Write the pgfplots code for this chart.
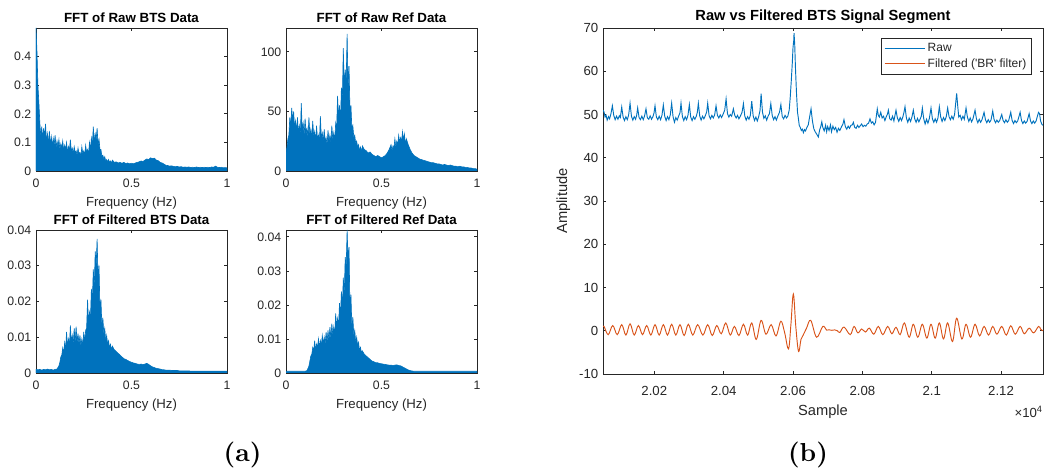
\documentclass[border=0pt]{standalone}
\usepackage{fontspec}
\usepackage{pgfplots}
\pgfplotsset{compat=1.18}
\newfontfamily\hel{Liberation Sans}
\newfontfamily\capfont{lmroman10-bold.otf}
\definecolor{axcol}{RGB}{38,38,38}
\definecolor{mblue}{RGB}{0,114,189}
\definecolor{morange}{RGB}{217,83,25}
\pgfplotsset{
  mstyle/.style={
    scale only axis,
    scaled ticks=false,
    axis line style={draw=axcol, line width=0.5pt},
    tick style={draw=axcol, line width=0.5pt},
    tick align=inside,
    major tick length=2.6pt,
    ticklabel style={font=\hel\fontsize{9.2}{11}\selectfont, text=axcol},
    xticklabel style={yshift=-2.5pt},
    every axis label/.append style={font=\hel\fontsize{9.9}{11}\selectfont, text=axcol},
    every axis title shift=0pt,
    title style={font=\hel\bfseries\fontsize{10}{12}\selectfont, anchor=base, at={(0.5,1)}, yshift=4.2pt},
    clip=true,
  },
  fftstyle/.style={
    mstyle, width=143.25pt, height=107.25pt, anchor=south west,
    xmin=0, xmax=1, ymin=0,
    xtick={0,0.5,1}, xticklabels={0,0.5,1},
    xlabel={Frequency (Hz)},
  },
  spec/.style={draw=mblue, fill=mblue, line width=0.45pt, mark=none, sharp plot},
}
\begin{document}
\begin{tikzpicture}
\useasboundingbox (0,0) rectangle (784.5pt,354.75pt);

% ---------- Top-left: FFT of Raw BTS Data
\begin{axis}[fftstyle, at={(27pt,226.5pt)}, ymax=0.5,
  ytick={0,0.1,0.2,0.3,0.4}, yticklabels={0,0.1,0.2,0.3,0.4},
  title={FFT of Raw BTS Data}]
\addplot[spec] coordinates {
(0.000,0.50)(0.005,0.42)(0.01,0.30)(0.015,0.24)(0.02,0.17)(0.025,0.12)(0.03,0.155)(0.035,0.11)(0.04,0.15)(0.045,0.12)
(0.05,0.165)(0.055,0.10)(0.06,0.13)(0.065,0.095)(0.07,0.14)(0.075,0.09)(0.08,0.12)(0.085,0.085)(0.09,0.115)(0.095,0.09)
(0.10,0.125)(0.105,0.08)(0.11,0.105)(0.115,0.085)(0.12,0.11)(0.125,0.075)(0.13,0.095)(0.135,0.08)(0.14,0.105)(0.145,0.07)
(0.15,0.09)(0.155,0.075)(0.16,0.10)(0.165,0.065)(0.17,0.085)(0.175,0.07)(0.18,0.11)(0.185,0.07)(0.19,0.08)(0.195,0.06)
(0.20,0.085)(0.205,0.065)(0.21,0.07)(0.215,0.055)(0.22,0.08)(0.225,0.06)(0.23,0.065)(0.235,0.05)(0.24,0.085)(0.245,0.06)
(0.25,0.07)(0.255,0.055)(0.26,0.09)(0.265,0.065)(0.27,0.075)(0.275,0.06)(0.28,0.10)(0.285,0.075)(0.29,0.115)(0.295,0.09)
(0.30,0.155)(0.305,0.10)(0.31,0.13)(0.315,0.11)(0.32,0.15)(0.325,0.09)(0.33,0.11)(0.335,0.075)(0.34,0.075)(0.345,0.05)
(0.35,0.055)(0.355,0.042)(0.36,0.05)(0.365,0.035)(0.37,0.04)(0.375,0.032)(0.38,0.04)(0.385,0.03)(0.39,0.035)(0.395,0.028)
(0.40,0.038)(0.41,0.03)(0.42,0.032)(0.43,0.028)(0.44,0.03)(0.45,0.027)(0.46,0.03)(0.47,0.026)
(0.48,0.028)(0.49,0.025)(0.50,0.027)(0.51,0.025)(0.52,0.028)(0.53,0.03)(0.54,0.032)(0.55,0.035)(0.56,0.033)(0.57,0.038)
(0.58,0.042)(0.59,0.04)(0.60,0.046)(0.61,0.043)(0.62,0.045)(0.63,0.038)(0.64,0.036)(0.65,0.03)(0.66,0.028)(0.67,0.024)
(0.68,0.02)(0.69,0.019)(0.70,0.017)(0.71,0.018)(0.72,0.016)(0.73,0.015)(0.74,0.016)(0.75,0.014)(0.76,0.015)(0.77,0.013)
(0.78,0.014)(0.79,0.013)(0.80,0.014)(0.81,0.012)(0.82,0.013)(0.83,0.012)(0.84,0.014)(0.85,0.012)(0.86,0.013)(0.87,0.012)
(0.88,0.013)(0.89,0.012)(0.90,0.013)(0.91,0.012)(0.92,0.014)(0.93,0.013)(0.94,0.017)(0.95,0.013)(0.96,0.012)(0.97,0.013)
(0.98,0.011)(0.99,0.012)(1.00,0.011)} \closedcycle;
\end{axis}

% ---------- Top-right: FFT of Raw Ref Data
\begin{axis}[fftstyle, at={(214.5pt,226.5pt)}, ymax=120,
  ytick={0,50,100}, yticklabels={0,50,100},
  title={FFT of Raw Ref Data}]
\addplot[spec] coordinates {
(0.00,15)(0.005,20)(0.01,27)(0.015,30)(0.02,45)(0.025,38)(0.03,53)(0.035,42)(0.04,50)(0.045,36)
(0.05,42)(0.055,33)(0.06,45)(0.065,32)(0.07,38)(0.075,30)(0.08,57)(0.085,34)(0.09,40)(0.095,30)
(0.10,44)(0.105,31)(0.11,36)(0.115,28)(0.12,45)(0.125,30)(0.13,35)(0.135,27)(0.14,42)(0.145,29)
(0.15,33)(0.155,25)(0.16,38)(0.165,26)(0.17,30)(0.175,24)(0.18,46)(0.185,28)(0.19,32)(0.195,24)
(0.20,35)(0.205,25)(0.21,28)(0.215,22)(0.22,34)(0.225,25)(0.23,30)(0.235,23)(0.24,38)(0.245,26)
(0.25,32)(0.255,25)(0.26,40)(0.265,35)(0.27,63)(0.275,45)(0.28,55)(0.285,40)(0.29,70)(0.295,60)
(0.30,103)(0.305,70)(0.31,85)(0.315,75)(0.32,115)(0.325,70)(0.33,88)(0.335,50)(0.34,55)(0.345,35)
(0.35,38)(0.355,28)(0.36,30)(0.365,23)(0.37,25)(0.375,20)(0.38,22)(0.385,17)(0.39,20)(0.395,16)
(0.40,21)(0.41,18)(0.42,17)(0.43,15)(0.44,16)(0.45,14)(0.46,13)(0.47,12)(0.48,13)(0.49,12)
(0.50,11)(0.51,12)(0.52,13)(0.53,15)(0.54,18)(0.55,22)(0.555,17)(0.56,21)(0.565,19)(0.57,27)(0.575,20)(0.58,25)(0.585,22)(0.59,30)(0.595,24)
(0.60,28)(0.605,25)(0.61,33)(0.615,26)(0.62,31)(0.625,22)(0.63,27)(0.64,22)(0.65,18)(0.66,15)(0.67,13)(0.68,12)(0.69,11)
(0.70,10)(0.71,9.5)(0.72,9)(0.73,8.5)(0.74,8)(0.75,7.5)(0.76,7)(0.77,7)(0.78,6.5)(0.79,6)
(0.80,6)(0.81,5.5)(0.82,5)(0.83,5.5)(0.84,5)(0.85,4.5)(0.86,5)(0.87,4.5)(0.88,4)(0.89,4)
(0.90,3.5)(0.91,4)(0.92,3.5)(0.93,3.5)(0.94,3)(0.95,3)(0.96,2.5)(0.97,2.5)(0.98,2)(0.99,2)(1.00,1.5)} \closedcycle;
\end{axis}

% ---------- Bottom-left: FFT of Filtered BTS Data
\begin{axis}[fftstyle, at={(27pt,75pt)}, ymax=0.04,
  ytick={0,0.01,0.02,0.03,0.04}, yticklabels={0,0.01,0.02,0.03,0.04},
  title={FFT of Filtered BTS Data}]
\addplot[spec] coordinates {
(0.00,0.0010)(0.01,0.0009)(0.02,0.0010)(0.03,0.0008)(0.04,0.0010)(0.05,0.0009)(0.06,0.0011)(0.07,0.0009)(0.08,0.0010)(0.09,0.0008)
(0.10,0.0010)(0.11,0.0011)(0.12,0.0020)(0.125,0.0030)(0.13,0.0045)(0.135,0.0050)(0.14,0.0070)(0.145,0.0055)(0.15,0.0085)(0.155,0.0065)
(0.16,0.0115)(0.165,0.0075)(0.17,0.0095)(0.175,0.0075)(0.18,0.0133)(0.185,0.0085)(0.19,0.0105)(0.195,0.0080)
(0.20,0.0125)(0.205,0.0085)(0.21,0.0130)(0.215,0.0085)(0.22,0.0110)(0.225,0.0080)(0.23,0.0105)(0.235,0.0075)(0.24,0.0095)(0.245,0.0075)
(0.25,0.0115)(0.255,0.0085)(0.26,0.0120)(0.265,0.0125)(0.27,0.0205)(0.275,0.0140)(0.28,0.0170)(0.285,0.0150)(0.29,0.0235)(0.295,0.0200)
(0.30,0.0290)(0.305,0.0240)(0.31,0.0340)(0.315,0.0300)(0.32,0.0375)(0.325,0.0260)(0.33,0.0300)(0.335,0.0170)(0.34,0.0205)(0.345,0.0130)
(0.35,0.0155)(0.355,0.0110)(0.36,0.0125)(0.365,0.0090)(0.37,0.0105)(0.375,0.0080)(0.38,0.0090)(0.385,0.0070)(0.39,0.0080)(0.395,0.0065)
(0.40,0.0075)(0.41,0.0065)(0.42,0.0060)(0.43,0.0055)(0.44,0.0050)(0.45,0.0045)(0.46,0.0040)(0.47,0.0038)(0.48,0.0035)(0.49,0.0032)
(0.50,0.0030)(0.51,0.0028)(0.52,0.0027)(0.53,0.0025)(0.54,0.0024)(0.55,0.0025)(0.56,0.0023)(0.57,0.0025)(0.58,0.0027)(0.59,0.0024)
(0.60,0.0020)(0.61,0.0017)(0.62,0.0015)(0.63,0.0013)(0.64,0.0012)(0.65,0.0011)(0.66,0.0009)(0.67,0.0009)(0.68,0.0008)(0.69,0.0008)
(0.70,0.0008)(0.71,0.0007)(0.72,0.0007)(0.73,0.0007)(0.74,0.0007)(0.75,0.0006)(0.76,0.0006)(0.77,0.0006)(0.78,0.0006)(0.79,0.0006)
(0.80,0.0006)(0.81,0.0005)(0.82,0.0005)(0.83,0.0005)(0.84,0.0005)(0.85,0.0005)(0.86,0.0005)(0.87,0.0005)(0.88,0.0005)(0.89,0.0005)
(0.90,0.0005)(0.91,0.0005)(0.92,0.0005)(0.93,0.0005)(0.94,0.0005)(0.95,0.0005)(0.96,0.0005)(0.97,0.0005)(0.98,0.0005)(0.99,0.0005)(1.00,0.0005)} \closedcycle;
\end{axis}

% ---------- Bottom-right: FFT of Filtered Ref Data
\begin{axis}[fftstyle, at={(214.5pt,75pt)}, ymax=0.042,
  ytick={0,0.01,0.02,0.03,0.04}, yticklabels={0,0.01,0.02,0.03,0.04},
  title={FFT of Filtered Ref Data}]
\addplot[spec] coordinates {
(0.00,0.0005)(0.01,0.0005)(0.02,0.0005)(0.03,0.0005)(0.04,0.0005)(0.05,0.0005)(0.06,0.0005)(0.07,0.0005)(0.08,0.0005)(0.09,0.0005)
(0.10,0.0005)(0.11,0.0007)(0.12,0.0020)(0.125,0.0035)(0.13,0.0050)(0.135,0.0055)(0.14,0.0075)(0.145,0.0065)(0.15,0.0095)(0.155,0.0065)
(0.16,0.0085)(0.165,0.0075)(0.17,0.0100)(0.175,0.0075)(0.18,0.0095)(0.185,0.0080)(0.19,0.0110)(0.195,0.0085)
(0.20,0.0105)(0.205,0.0085)(0.21,0.0120)(0.215,0.0090)(0.22,0.0125)(0.225,0.0095)(0.23,0.0135)(0.235,0.0100)(0.24,0.0145)(0.245,0.0110)
(0.25,0.0135)(0.255,0.0110)(0.26,0.0175)(0.265,0.0135)(0.27,0.0160)(0.275,0.0135)(0.28,0.0205)(0.285,0.0165)(0.29,0.0240)(0.295,0.0190)
(0.30,0.0280)(0.305,0.0230)(0.31,0.0340)(0.315,0.0310)(0.32,0.0420)(0.325,0.0330)(0.33,0.0370)(0.335,0.0180)(0.34,0.0230)(0.345,0.0130)
(0.35,0.0165)(0.355,0.0110)(0.36,0.0125)(0.365,0.0090)(0.37,0.0105)(0.375,0.0080)(0.38,0.0090)(0.385,0.0065)(0.39,0.0075)(0.395,0.0060)
(0.40,0.0065)(0.41,0.0055)(0.42,0.0050)(0.43,0.0045)(0.44,0.0040)(0.45,0.0035)(0.46,0.0033)(0.47,0.0030)(0.48,0.0030)(0.49,0.0028)
(0.50,0.0027)(0.51,0.0026)(0.52,0.0025)(0.53,0.0024)(0.54,0.0023)(0.55,0.0023)(0.56,0.0022)(0.57,0.0023)(0.58,0.0024)(0.59,0.0022)
(0.60,0.0021)(0.61,0.0018)(0.62,0.0015)(0.63,0.0012)(0.64,0.0009)(0.65,0.0007)(0.66,0.0006)(0.67,0.0005)(0.68,0.0005)(0.69,0.0005)
(0.70,0.0005)(0.71,0.0005)(0.72,0.0005)(0.73,0.0005)(0.74,0.0005)(0.75,0.0005)(0.76,0.0005)(0.77,0.0005)(0.78,0.0005)(0.79,0.0005)
(0.80,0.0005)(0.81,0.0005)(0.82,0.0005)(0.83,0.0005)(0.84,0.0005)(0.85,0.0005)(0.86,0.0005)(0.87,0.0005)(0.88,0.0005)(0.89,0.0005)
(0.90,0.0005)(0.91,0.0005)(0.92,0.0005)(0.93,0.0005)(0.94,0.0005)(0.95,0.0005)(0.96,0.0005)(0.97,0.0005)(0.98,0.0005)(0.99,0.0005)(1.00,0.0005)} \closedcycle;
\end{axis}

% ---------- Right: Raw vs Filtered
\begin{axis}[mstyle, name=R, at={(452.25pt,74.25pt)}, anchor=south west, width=330pt, height=259.5pt,
  xmin=20052, xmax=21321, ymin=-10, ymax=70,
  xtick={20200,20400,20600,20800,21000,21200}, xticklabels={2.02,2.04,2.06,2.08,2.1,2.12},
  ytick={-10,0,10,20,30,40,50,60,70}, yticklabels={-10,0,10,20,30,40,50,60,70},
  ticklabel style={font=\hel\fontsize{9.9}{11}\selectfont},
  xticklabel style={yshift=-3pt},
  label style={font=\hel\fontsize{11}{12}\selectfont},
  xlabel={Sample}, ylabel={Amplitude},
  title={Raw vs Filtered BTS Signal Segment},
  title style={font=\hel\bfseries\fontsize{11}{13}\selectfont, yshift=1.6pt},
  legend style={at={(axis description cs:1,1)}, anchor=north east, xshift=-8.25pt, yshift=-7.5pt,
    draw=axcol, line width=0.5pt, font=\hel\fontsize{9}{11}\selectfont, text=axcol,
    inner xsep=2pt, inner ysep=1.5pt, row sep=0pt},
  legend cell align=left,
  legend image code/.code={\draw[#1] (0pt,0pt) -- (30pt,0pt);},
]
\addplot[mblue, line width=0.7pt] coordinates {
(20052,51.0)(20055,50.6)(20058,49.4)(20061,49.8)(20064,48.7)(20068,49.5)(20071,49.0)(20075,50.2)
(20079,52.0)(20083,49.8)(20087,48.8)(20091,49.6)(20095,48.9)(20099,49.7)(20102,49.3)
(20106,51.7)(20110,49.4)(20114,48.6)(20118,49.5)(20122,48.8)(20126,49.9)
(20130,52.6)(20134,49.6)(20138,48.7)(20142,49.5)(20146,48.9)(20149,49.8)
(20152,51.5)(20156,49.3)(20160,48.8)(20164,49.6)(20168,48.8)(20172,49.7)
(20176,51.3)(20180,49.2)(20184,48.9)(20188,49.7)(20192,48.9)(20196,49.5)(20199,50.3)
(20202,52.0)(20206,49.4)(20210,48.8)(20214,49.6)(20218,48.8)(20222,49.8)
(20226,52.2)(20230,49.6)(20234,48.6)(20238,49.5)(20242,48.8)(20246,49.9)
(20250,52.6)(20254,49.5)(20258,48.2)(20262,49.3)(20266,48.7)(20270,49.6)(20274,50.4)
(20277,52.6)(20281,49.5)(20285,48.6)(20289,49.5)(20293,48.8)(20297,49.8)
(20301,52.3)(20305,49.4)(20309,48.6)(20313,49.5)(20317,48.9)(20321,49.6)(20324,50.5)
(20327,52.6)(20331,49.6)(20335,48.7)(20339,49.6)(20343,49.0)(20347,49.7)(20351,50.6)
(20354,52.6)(20358,49.7)(20362,49.0)(20366,49.8)(20370,49.2)(20374,49.9)
(20378,52.0)(20382,49.8)(20386,49.2)(20390,49.9)(20394,49.3)(20398,50.0)(20403,51.0)
(20407,53.6)(20411,50.2)(20415,49.4)(20419,50.0)(20423,49.6)(20428,51.3)(20432,49.8)(20436,49.2)(20440,49.8)(20444,49.0)(20448,49.6)(20453,50.5)
(20457,52.5)(20461,49.6)(20465,48.7)(20469,49.5)(20473,48.9)(20477,49.8)
(20481,53.1)(20485,49.7)(20489,48.6)(20493,49.4)(20497,48.5)(20501,49.5)(20505,51.0)
(20508,54.8)(20512,50.5)(20516,49.1)(20520,49.7)(20524,48.7)(20528,49.6)(20532,50.2)
(20536,52.5)(20540,49.8)(20544,48.8)(20548,49.5)(20552,48.7)(20556,49.6)(20561,50.5)
(20565,52.3)(20569,49.5)(20573,49.0)(20577,49.8)(20581,49.2)(20585,49.6)(20589,51.0)
(20592,54.0)(20595,57.8)(20598,62.0)(20600,65.5)(20602,67.0)(20603,68.8)(20605,66.0)(20607,60.9)(20610,55.0)(20613,50.5)(20615,49.4)
(20618,47.5)(20621,47.0)(20624,46.3)(20627,46.6)(20630,45.8)(20633,46.5)(20636,46.2)(20640,47.0)(20644,47.6)(20648,49.5)
(20652,51.3)(20656,48.5)(20660,46.7)(20664,46.0)(20668,45.5)(20673,44.8)(20677,46.5)(20680,47.2)(20683,48.3)(20686,47.0)
(20690,46.2)(20694,47.5)(20697,46.0)(20700,47.2)(20704,46.3)(20708,47.6)(20711,46.0)(20715,47.3)(20719,46.5)(20723,47.0)
(20727,45.9)(20731,46.8)(20735,46.3)(20740,47.2)(20744,47.8)(20747,48.8)(20751,47.2)(20755,46.6)(20759,47.3)(20763,46.8)
(20767,47.5)(20771,47.6)(20774,48.2)(20778,47.0)(20782,46.8)(20786,47.5)(20790,47.0)(20794,47.4)(20798,47.8)(20802,47.2)
(20806,47.5)(20810,47.3)(20814,47.8)(20818,48.0)(20822,49.0)(20826,48.0)(20830,48.3)(20834,47.6)(20838,48.2)(20843,51.3)
(20846,49.8)(20849,49.4)(20853,50.5)(20857,49.2)(20861,49.6)(20865,48.6)(20869,49.5)(20872,50.0)(20875,51.0)(20879,49.0)
(20883,48.7)(20887,49.6)(20891,48.5)(20894,49.8)(20897,51.0)(20901,49.2)(20905,48.4)(20909,49.3)(20913,48.6)(20917,49.5)
(20920,50.5)(20923,51.8)(20927,49.2)(20931,48.2)(20935,49.2)(20939,48.4)(20943,49.4)(20947,51.0)(20951,49.0)(20955,48.2)
(20959,49.1)(20963,48.3)(20967,49.0)(20970,49.6)(20973,51.5)(20977,49.0)(20981,47.8)(20985,48.9)(20989,48.0)(20993,49.0)
(20998,51.5)(21002,49.0)(21006,48.2)(21010,49.0)(21014,48.2)(21018,49.2)(21022,51.8)(21026,49.4)(21030,48.4)(21034,49.3)
(21038,48.6)(21042,49.5)(21046,51.5)(21050,49.5)(21054,48.8)(21058,49.6)(21062,48.9)(21066,50.0)(21069,52.5)(21072,54.9)
(21075,52.0)(21078,49.4)(21082,49.8)(21086,48.8)(21090,49.6)(21094,48.9)(21099,51.5)(21103,49.4)(21107,48.4)(21111,49.2)
(21115,48.3)(21119,49.0)(21125,51.0)(21129,49.0)(21133,48.1)(21137,48.9)(21141,48.2)(21145,48.8)(21151,50.5)(21155,48.8)
(21159,48.1)(21163,48.8)(21167,48.2)(21171,48.7)(21176,50.8)(21180,48.8)(21184,48.1)(21188,48.7)(21192,48.2)(21196,48.6)
(21202,50.0)(21206,48.6)(21210,48.1)(21214,48.8)(21218,48.2)(21222,48.6)(21228,50.5)(21232,48.6)(21236,47.9)(21240,48.6)
(21244,48.1)(21248,48.5)(21255,50.5)(21259,48.6)(21263,47.9)(21267,48.5)(21271,48.0)(21275,48.4)(21281,50.2)(21285,48.5)
(21289,47.9)(21293,48.5)(21297,48.0)(21301,48.5)(21308,50.5)(21311,50.2)(21314,48.5)(21318,47.7)(21321,47.5)};
\addlegendentry{Raw}
\addplot[morange, line width=0.7pt, smooth, tension=0.6] coordinates {
(20052,0.9)(20055,1.0)(20067,-0.9)(20080,1.2)(20093,-0.9)(20106,1.4)(20118,-1.0)(20130,1.6)(20142,-1.0)(20154,1.2)
(20166,-0.9)(20178,1.2)(20190,-1.0)(20202,1.4)(20214,-1.0)(20226,1.4)(20238,-1.0)(20250,1.5)(20262,-1.0)(20274,1.4)
(20286,-1.1)(20298,1.5)(20311,-1.0)(20325,1.4)(20340,-1.0)(20354,1.4)(20367,-1.1)(20380,1.2)(20393,-0.7)(20406,1.8)
(20419,-1.0)(20431,1.0)(20444,-1.1)(20457,1.5)(20469,-1.0)(20481,1.8)(20494,-2.0)(20508,2.4)(20522,-0.8)(20537,1.4)
(20551,-1.2)(20565,2.2)(20576,-0.5)(20587,-4.2)(20594,1.5)(20601,8.5)(20608,1.0)(20616,-4.8)(20623,-2.0)(20630,-0.9)(20639,0.6)
(20651,2.4)(20668,-1.5)(20686,1.0)(20697,0.15)(20705,0.2)(20712,0.1)(20720,0.2)(20728,0.0)(20735,-0.4)(20747,0.85)
(20765,-0.9)(20776,1.0)(20787,-0.5)(20798,0.4)(20809,-0.3)(20820,0.6)(20833,-0.8)(20846,1.0)(20859,-0.9)(20873,1.0)
(20885,-0.7)(20897,0.8)(20909,-0.9)(20921,1.8)(20935,-1.5)(20947,1.5)(20960,-1.5)(20973,1.5)(20986,-1.7)(20998,1.5)
(21010,-1.7)(21022,1.8)(21034,-1.9)(21046,1.8)(21060,-2.5)(21072,2.9)(21087,-1.9)(21099,1.5)(21112,-1.5)(21125,1.5)
(21138,-1.2)(21151,1.0)(21164,-1.0)(21176,1.0)(21188,-0.8)(21202,1.0)(21215,-1.0)(21228,1.15)(21241,-0.8)(21255,1.0)
(21267,-0.7)(21281,0.6)(21294,-0.5)(21308,1.0)(21314,0.4)(21318,0.1)(21321,0.0)};
\addlegendentry{Filtered ('BR' filter)}
\end{axis}
\node[anchor=east, font=\hel\fontsize{9.9}{11}\selectfont, text=axcol, inner sep=0pt] at ([yshift=-28.5pt]R.south east) {×10\textsuperscript{4}};

% ---------- Captions
\node[anchor=base, font=\capfont\fontsize{19.5}{22}\selectfont, inner sep=0pt] at (181.9pt,8.25pt) {(a)};
\node[anchor=base, font=\capfont\fontsize{19.5}{22}\selectfont, inner sep=0pt] at (606pt,8.25pt) {(b)};
\end{tikzpicture}
\end{document}
